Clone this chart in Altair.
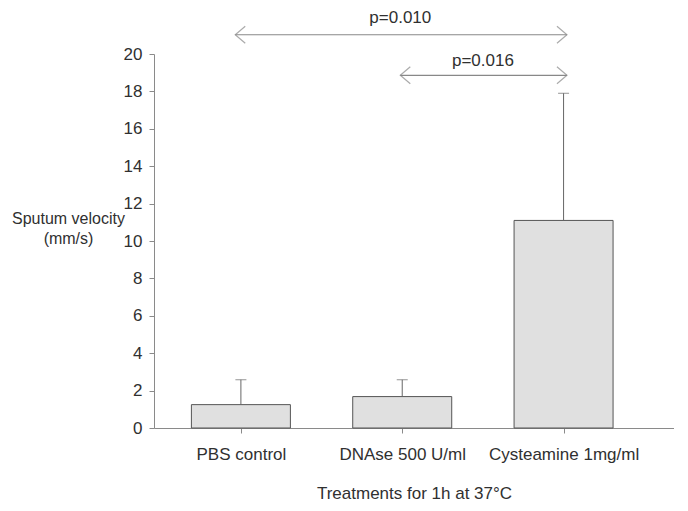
import altair as alt
import pandas as pd

categories = ["PBS control", "DNAse 500 U/ml", "Cysteamine 1mg/ml"]
positions = [0.5, 1.5, 2.5]
means = [1.25, 1.68, 11.1]
upper = [2.58, 2.58, 17.9]
y_ticks = [0, 2, 4, 6, 8, 10, 12, 14, 16, 18, 20]

# significance brackets
brk_start = [0.465, 1.488]
brk_end = [2.521, 2.521]
brk_y = [21.03, 18.86]
brk_label = ["p=0.010", "p=0.016"]
brk_label_x = [1.488, 2.0]
brk_label_y = [21.92, 19.63]

FONT = "Liberation Sans"
FS = 17
TXT = "#303030"
AX = "#8a8a8a"

bars = pd.DataFrame({"cat": categories, "pos": positions, "mean": means, "upper": upper})
brk = pd.DataFrame({"x1": brk_start, "x2": brk_end, "y": brk_y})
lbl = pd.DataFrame({"x": brk_label_x, "y": brk_label_y, "t": brk_label})

label_expr = " : ".join(
    [f"datum.value < {p + 0.5} ? '{c}'" for p, c in zip(positions[:-1], categories[:-1])]
    + [f"'{categories[-1]}'"]
)

xscale = alt.Scale(domain=[-0.0076, 3.1535], nice=False, zero=False)
yscale = alt.Scale(domain=[0, 20], nice=False)

xaxis = alt.Axis(
    values=positions, labelExpr=label_expr, grid=False, tickSize=5,
    labelFontSize=FS, labelFont=FONT, labelColor=TXT, labelPadding=13,
    domainColor=AX, tickColor=AX, title="Treatments for 1h at 37°C",
    titleFont=FONT, titleFontSize=FS, titleFontWeight="normal", titleColor=TXT,
    titleY=70, titleBaseline="alphabetic", labelFlush=False, labelOverlap=False,
)
yaxis = alt.Axis(
    values=y_ticks, tickCount=len(y_ticks), grid=False, tickSize=5, labelFontSize=FS,
    labelFont=FONT, labelColor=TXT, labelPadding=7, domainColor=AX, tickColor=AX,
    labelOverlap=False, labelFlush=False,
    title=["Sputum velocity", "(mm/s)"], titleAngle=0, titleAlign="center",
    titleBaseline="alphabetic", titleX=-86, titleY=169, titleFont=FONT,
    titleFontSize=16, titleFontWeight="normal", titleColor=TXT, titleLineHeight=20,
)

X = lambda f: alt.X(f, scale=xscale, axis=xaxis)
Y = lambda f: alt.Y(f, scale=yscale, axis=yaxis)

base = alt.Chart(bars)

bar = base.mark_bar(size=99, color="#e0e0e0", stroke="#555555", strokeWidth=1).encode(
    x=X("pos:Q"), y=Y("mean:Q"),
)
err = base.mark_rule(color="#666666", strokeWidth=1).encode(
    x=X("pos:Q"), y=Y("mean:Q"), y2="upper:Q"
)
cap = base.mark_tick(orient="horizontal", size=11, thickness=1, color="#666666").encode(
    x=X("pos:Q"), y=Y("upper:Q")
)

line = alt.Chart(brk).mark_rule(color="#888888", strokeWidth=1.2).encode(
    x=X("x1:Q"), x2="x2:Q", y=Y("y:Q")
)
left_head = alt.Chart(brk).mark_point(
    shape="M1,-0.85L0,0L1,0.85", size=400, filled=False, color="#888888", strokeWidth=1.2
).encode(x=X("x1:Q"), y=Y("y:Q"))
right_head = alt.Chart(brk).mark_point(
    shape="M-1,-0.85L0,0L-1,0.85", size=400, filled=False, color="#888888", strokeWidth=1.2
).encode(x=X("x2:Q"), y=Y("y:Q"))
texts = alt.Chart(lbl).mark_text(
    font=FONT, fontSize=FS, color=TXT, baseline="middle", align="center"
).encode(x=X("x:Q"), y=Y("y:Q"), text="t:N")

chart = alt.layer(bar, err, cap, line, left_head, right_head, texts).properties(
    width=520, height=374,
    autosize=alt.AutoSizeParams(type="none"),
    padding={"left": 146, "top": 46, "right": 0, "bottom": 75},
).configure(background="white", view=alt.ViewConfig(stroke=None))

chart.save("out.html", embed_options={"renderer": "svg", "actions": False})
